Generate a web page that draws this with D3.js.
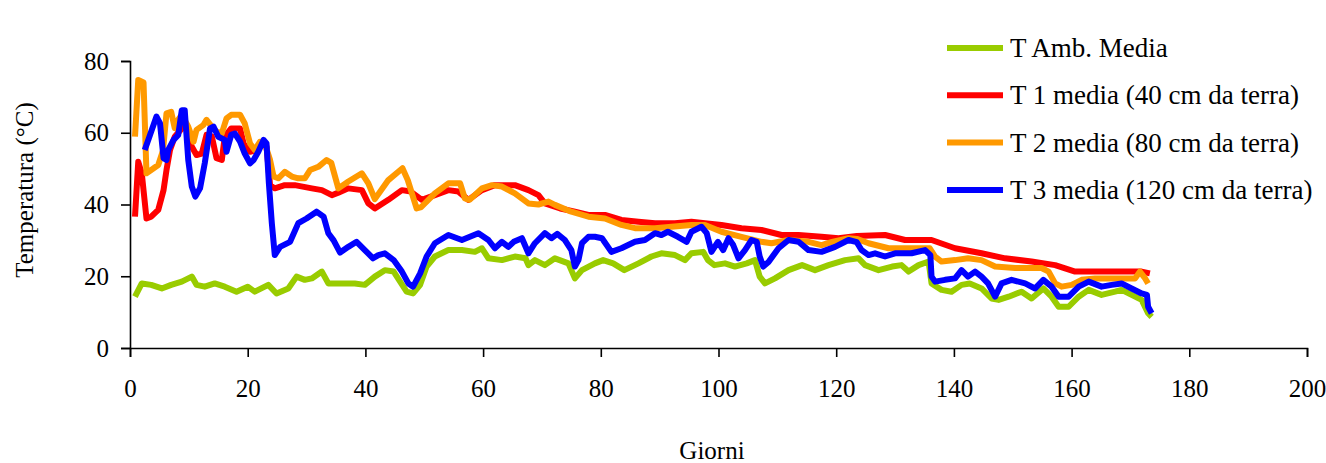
<!DOCTYPE html>
<html>
<head>
<meta charset="utf-8">
<script src="https://cdn.jsdelivr.net/npm/d3@7"></script>
<style>
  body { margin: 0; background: #fff; }
  svg text { font-family: "Liberation Serif", "Times New Roman", serif; fill: #000; }
</style>
</head>
<body>
<div id="chart"></div>
<script>
// serie: [giorno, temperatura]
var tAmb = [[0.85,14.3],[2,18],[3.6,17.6],[5.4,16.6],[7,17.6],[8.8,18.5],[10.5,19.9],[11.3,17.6],[12.7,17.1],[14.4,18],[16.1,17.1],[18.1,15.7],[20,17.1],[21.2,15.7],[23.5,17.6],[24.9,15.2],[26.9,16.6],[28.3,19.9],[29.7,19],[30.9,19.4],[32.6,21.3],[33.7,18],[35.7,18],[38.2,18],[39.9,17.6],[41.6,19.9],[43.3,21.7],[44.8,21.3],[45.9,18.5],[47,15.7],[48.1,15.2],[49.3,17.6],[50.4,22.7],[51.8,25.5],[54.1,27.3],[56.4,27.3],[58.6,26.8],[59.8,27.8],[60.9,25],[63.2,24.5],[65.4,25.5],[67.2,25],[67.7,23.1],[68.8,24.5],[70.5,23.1],[72.2,25],[74.5,23.6],[75.6,19.4],[76.8,21.7],[79,23.6],[80.4,24.5],[82.1,23.6],[84,21.7],[86.4,23.6],[88.6,25.5],[90.3,26.4],[92.6,25.9],[94.3,24.5],[95.4,26.4],[97.4,26.8],[98.2,24.5],[99.3,23.1],[101.1,23.6],[102.8,22.7],[104.8,23.6],[106.2,24.5],[107,19.9],[107.9,18],[109.6,19.4],[111.9,21.7],[114.2,23.1],[116.4,21.7],[118.7,23.1],[121.5,24.5],[123.8,25],[124.9,23.1],[127.2,21.7],[129.5,22.7],[131.1,23.1],[132.3,21.3],[134,23.1],[135.7,24.1],[136.2,18],[137.9,16.2],[139.6,15.7],[141.3,17.6],[142.7,18],[144.7,16.6],[146.4,13.8],[147.6,13.4],[149.3,14.3],[151.5,15.7],[153.2,13.8],[155.2,16.6],[156.6,14.3],[157.8,11.5],[159.5,11.5],[161.2,14.3],[162.9,16.2],[165.1,14.8],[167.4,15.7],[168.5,16.2],[170.2,14.8],[171.9,13.4],[173,9.7],[173.6,8.7]];

var t1 = [[0.85,36.6],[1.4,51.9],[2,48.7],[2.8,36.1],[3.6,36.6],[4.8,38.5],[5.7,44],[6.2,49.6],[6.8,55.2],[7.6,58.9],[8.8,61.2],[9.6,61.7],[10.2,57],[11.3,53.8],[12.2,54.2],[13,59.4],[13.9,59],[14.7,52.9],[15.6,52.4],[16.1,58.9],[17.2,61.2],[18.7,61.2],[19.3,57],[20.4,54.7],[21.5,55.2],[22.4,57.5],[23.2,56.1],[23.8,45.4],[24.6,44.5],[26.3,45.4],[28,45.4],[30.9,44.5],[32.6,44],[34.3,42.6],[35.4,43.3],[37.1,44.5],[39.4,44],[40.5,40.3],[41.6,38.9],[43.9,41.3],[46.2,44],[47.7,43.6],[49.6,41.3],[51.8,42.6],[54.1,44],[55.8,43.6],[57.5,41.3],[59.8,44],[62,45.4],[65.4,45.4],[67.7,44],[69.4,42.6],[70.5,40.3],[73.1,38.9],[75.6,38],[77.9,37.1],[80.7,37.1],[83.5,35.7],[86.4,35.2],[89.2,34.8],[92.6,34.8],[95.4,35.2],[97.7,34.8],[100.5,34.3],[103.9,33.4],[107.3,32.9],[110.7,31.5],[113.6,31.5],[117.5,31],[120.4,30.6],[123.5,31.2],[128.3,31.5],[131.7,30.1],[136.2,30.1],[140.2,27.8],[144.7,26.4],[148.7,25],[153.2,24.1],[157.2,23.1],[160.6,21.3],[166.2,21.3],[171.9,21.3],[173.3,20.8]];

var t2 = [[0.85,58.9],[1.4,74.7],[2.3,74],[2.8,48.7],[3.6,49.6],[4.8,51],[5.6,55],[6.2,65.4],[7,65.8],[7.6,61.3],[8.2,63.6],[8.8,65],[9.9,61.7],[10.8,57.5],[11.3,60.8],[12.5,62.2],[13,63.6],[13.9,61.7],[14.7,60.3],[15.6,59.8],[16.4,64],[17.2,65],[18.7,65],[19.5,62.6],[20.4,57],[21.2,55.2],[22.1,57.5],[22.9,57],[23.8,52.4],[24.4,47.8],[25.2,47.3],[26.3,49.1],[27.5,47.8],[28.6,47.3],[29.7,47.3],[30.6,49.6],[32,50.5],[33.4,52.4],[34.2,51.6],[35.4,44.5],[37.1,46.4],[39.4,48.7],[40.5,45.9],[41.6,41.5],[43.9,46.8],[46.3,50.1],[47.2,46.8],[48.7,38.9],[49.5,39.3],[51.8,43.1],[54.1,45.9],[56.1,45.9],[56.9,41.7],[57.7,41.3],[59.8,44.5],[61.5,45.4],[63.2,45],[65.4,43.1],[67.7,40.3],[69.4,40],[71.1,40.8],[72.2,39.9],[75,38],[77.9,36.6],[80.7,36.1],[83.5,34.3],[85.8,33.4],[89.2,33.4],[92,33.8],[95.4,34.3],[97.7,34.3],[100.5,32.4],[103.9,31],[107.3,29.6],[109,29.2],[111.9,30.1],[115.3,29.6],[117.5,28.7],[119.3,29.6],[122.1,30.6],[123.5,30.4],[125.5,29.2],[128.9,27.8],[131.7,27.8],[135.9,27.8],[136.8,25.5],[137.9,24.1],[140.2,24.5],[142.4,25],[144.7,24.5],[147,22.7],[150.4,22.3],[154.9,22.3],[156.1,21.3],[157.2,18],[158.3,17.1],[160,17.6],[161.7,19],[164,19.4],[168.5,19.4],[170.8,19.4],[171.6,21.3],[172.5,19.4],[173,18]];

var t3 = [[2.5,55.2],[3.4,59.4],[4.5,64.5],[5.1,62.6],[5.7,52.9],[6.2,52.4],[6.5,55.2],[7.4,58],[8.2,59.4],[8.8,66.3],[9.3,66.3],[9.9,52.4],[10.5,45],[11.1,42.2],[11.9,44.5],[12.7,51.5],[13.6,61.2],[14.2,61.7],[15,58.9],[16.1,58],[16.4,54.7],[17.2,59.4],[17.8,59.8],[18.7,57.5],[19.5,54.2],[20.4,51.5],[21,52.4],[21.8,54.7],[22.7,58],[23.2,57],[23.6,45.9],[24.1,34.8],[24.6,25.9],[25.5,28.2],[27.2,29.6],[28.6,34.8],[30,36.1],[31.7,38],[32.9,36.6],[33.7,32],[34.6,30],[35.7,26.6],[37.1,28.2],[38.5,29.6],[39.9,27.3],[41.3,25],[42.2,25.9],[43.3,26.4],[44.8,24.5],[46.2,21.3],[47.3,18],[48.1,17.1],[49.3,20.8],[50.4,25.5],[51.8,29.2],[54.1,31.5],[56.4,30.1],[59.2,32],[60.9,30.1],[62,27.8],[63.2,29.6],[64.3,28.2],[65.2,29.6],[66.6,30.6],[67.7,26.4],[68.8,29.2],[70.5,32],[71.6,30.6],[72.6,31.8],[73.9,30.1],[75,27.3],[75.6,22.7],[76.2,24.5],[76.8,29.2],[77.9,31],[79,31],[80.2,30.6],[81.8,26.8],[83.5,27.8],[85.8,29.6],[87.5,30.1],[89.2,32],[90.3,31.5],[91.4,32.4],[93.1,31],[94.6,29.6],[95.4,32.4],[97.1,33.8],[98,32],[98.8,26.8],[99.9,29.6],[100.8,27.3],[101.7,30.6],[102.5,28.7],[103.4,25],[104.5,27.3],[105.6,30.1],[106.5,29.6],[107,25.5],[107.6,22.7],[108.5,24],[110.2,27.8],[111.9,30.1],[113.6,29.6],[115.3,27.3],[117.5,26.8],[119.8,28.2],[122.1,30.1],[123.5,29.5],[124.3,27.3],[125.5,25.9],[126.6,26.4],[128.3,25.5],[130,26.4],[132.8,26.4],[135.1,27.3],[136,25.9],[136.2,19.9],[136.8,18.5],[138.5,19],[140.2,19.4],[141.3,21.7],[142.4,19.9],[143.6,21.3],[144.7,19.9],[145.8,18],[147,14.3],[148.1,18],[149.8,19],[152.1,18],[153.8,16.6],[155.2,19],[156.6,17.1],[157.8,14.3],[159.5,14.3],[161.2,17.1],[162.9,18.5],[165.1,17.1],[166.8,17.6],[168.5,18],[170.2,16.6],[171.9,15.2],[172.8,14.8],[173,11.5],[173.6,9.7]];

var nomi = ["T Amb. Media", "T 1 media (40 cm da terra)", "T 2 media (80 cm da terra)", "T 3 media (120 cm da terra)"];
var colori = ["#99cc00", "#ff0000", "#ff9900", "#0000ff"];
var serie = [tAmb, t1, t2, t3];
var xTicks = [0, 20, 40, 60, 80, 100, 120, 140, 160, 180, 200];
var yTicks = [0, 20, 40, 60, 80];

var larg = 1326, haut = 463;
var m = {left: 130, right: 20, top: 61, bottom: 115};

var svg = d3.select("#chart").append("svg")
    .attr("width", larg)
    .attr("height", haut);

var x = d3.scaleLinear().domain([0, 200]).range([m.left, 1307]);
var y = d3.scaleLinear().domain([0, 80]).range([348, m.top]);

// assi
var gx = svg.append("g")
    .attr("transform", "translate(0,348)")
    .call(d3.axisBottom(x).tickValues(xTicks).tickSizeOuter(0).tickSize(9).tickPadding(22));
var gy = svg.append("g")
    .attr("transform", "translate(" + m.left + ",0)")
    .call(d3.axisLeft(y).tickValues(yTicks).tickSizeOuter(0).tickSize(9).tickPadding(12));

[gx, gy].forEach(function(g){
    g.selectAll("path, line").attr("stroke", "#000").attr("stroke-width", 1.6);
    g.selectAll("text").attr("font-size", "25px").attr("font-family", "Liberation Serif, Times New Roman, serif").attr("fill", "#000");
});

// linee
var line = d3.line()
    .x(function(d){ return x(d[0]); })
    .y(function(d){ return y(d[1]); });

serie.forEach(function(s, i){
    svg.append("path")
        .datum(s)
        .attr("fill", "none")
        .attr("stroke", colori[i])
        .attr("stroke-width", 6)
        .attr("stroke-linejoin", "round")
        .attr("d", line);
});

// titoli assi
svg.append("text")
    .attr("x", 712)
    .attr("y", 459)
    .attr("text-anchor", "middle")
    .attr("font-size", "25px")
    .text("Giorni");

svg.append("text")
    .attr("transform", "translate(33,190) rotate(-90)")
    .attr("text-anchor", "middle")
    .attr("font-size", "25px")
    .text("Temperatura (°C)");

// legenda
var leg = svg.append("g");
nomi.forEach(function(n, i){
    var yy = 48 + i * 47.3;
    leg.append("line")
        .attr("x1", 947).attr("x2", 1003)
        .attr("y1", yy).attr("y2", yy)
        .attr("stroke", colori[i])
        .attr("stroke-width", 6);
    leg.append("text")
        .attr("x", 1010)
        .attr("y", yy + 9)
        .attr("font-size", "27px")
        .text(n);
});
</script>
</body>
</html>
